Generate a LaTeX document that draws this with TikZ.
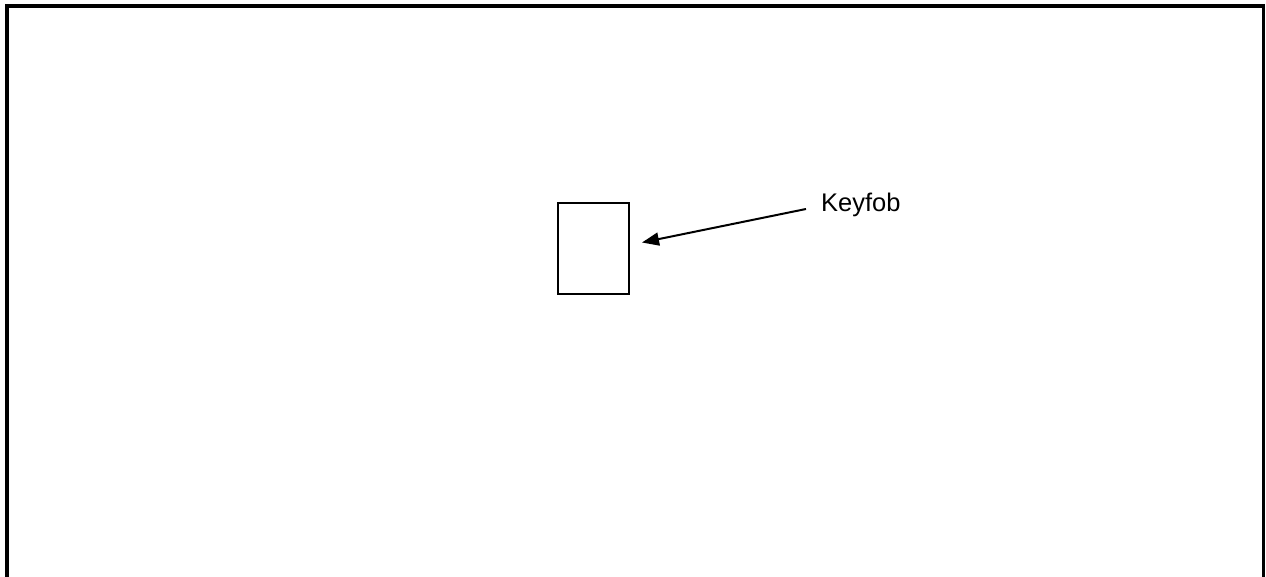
\documentclass[tikz,border=0pt]{standalone}
\usepackage{fontspec}
\setmainfont{Liberation Sans}
\usetikzlibrary{arrows.meta}
\begin{document}
\begin{tikzpicture}[x=1pt,y=-1pt,
  frameline/.style={line width=4pt},
  boxstyle/.style={draw,line width=2pt,minimum width=71pt,minimum height=91pt,inner sep=0pt},
  labelstyle/.style={font=\fontsize{25.5}{30}\selectfont,inner sep=0pt,anchor=base west},
  pointer/.style={line width=2pt,-{Triangle[length=17pt,width=13pt]}}]
\useasboundingbox (0,0) rectangle (1266,577);
\draw[frameline] (7,579) -- (7,6) -- (1263,6);
\draw[line width=3pt] (1263,4) -- (1263,579);
\node[boxstyle] (fob) at (593,249) {};
\node[labelstyle] (lbl) at (821,212) {Keyfob};
\coordinate (start) at (806,209);
\coordinate (tip) at (642,242.5);
\draw[pointer] (start) -- (tip);
\end{tikzpicture}
\end{document}
